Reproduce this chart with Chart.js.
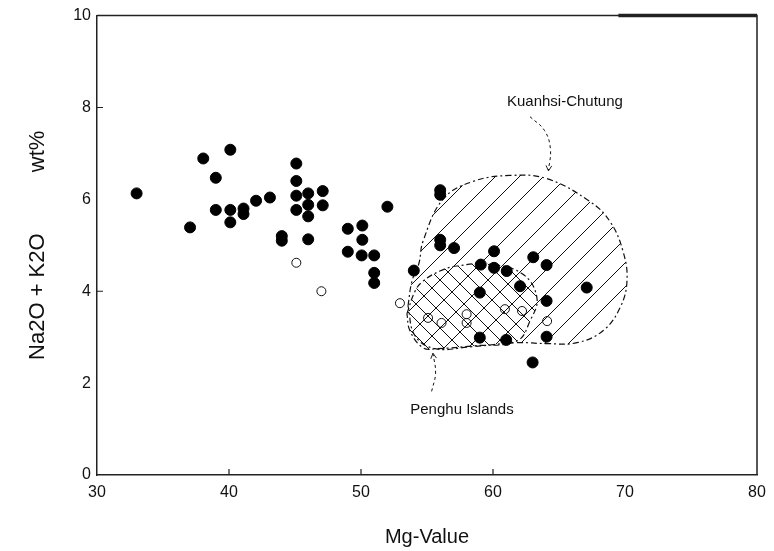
<!DOCTYPE html>
<html>
<head>
<meta charset="utf-8">
<script src="https://cdn.jsdelivr.net/npm/chart.js@4.4.1/dist/chart.umd.min.js"></script>
<style>
  html, body { margin: 0; padding: 0; background: #fff; }
  #wrap { width: 774px; height: 551px; }
</style>
</head>
<body>
<div id="wrap"><canvas id="myChart" width="774" height="551"></canvas></div>
<script>
// filled circles (Mg-value, Na2O + K2O)
const mgFilled = [33.0, 37.05, 38.05, 39.0, 39.0, 40.1, 40.1, 40.1, 41.1, 41.1, 42.05, 43.1, 44.0, 44.0,
  45.1, 45.1, 45.1, 45.1, 46.0, 46.0, 46.0, 46.0, 47.1, 47.1, 49.0, 49.0, 50.1, 50.1, 50.05, 51.0, 51.0, 51.0,
  52.0, 54.0, 56.0, 56.0, 56.0, 56.0, 57.05, 59.07, 59.0, 59.0, 60.08, 60.08, 61.04, 61.0, 62.05, 63.05, 63.0,
  64.06, 64.06, 64.06, 67.1];
const alkFilled = [6.13, 5.39, 6.89, 6.47, 5.77, 7.08, 5.77, 5.5, 5.8, 5.68, 5.97, 6.04, 5.2, 5.1,
  6.78, 6.4, 6.08, 5.77, 6.13, 5.88, 5.63, 5.13, 6.18, 5.87, 5.36, 4.86, 5.43, 5.12, 4.78, 4.78, 4.4, 4.18,
  5.84, 4.45, 6.2, 6.1, 5.12, 5.0, 4.94, 4.58, 3.97, 2.99, 4.87, 4.51, 4.44, 2.94, 4.11, 4.74, 2.45,
  4.57, 3.79, 3.01, 4.08];

// open circles
const mgOpen = [45.1, 47.0, 52.95, 55.08, 56.1, 58.0, 58.0, 60.9, 62.2, 64.1];
const alkOpen = [4.62, 4.0, 3.74, 3.42, 3.31, 3.5, 3.31, 3.61, 3.57, 3.35];

// Kuanhsi-Chutung field outline
const kuanMg = [53.56, 53.86, 54.39, 54.7, 56.21, 58.48, 61.29, 64.09, 67.35, 68.86, 69.85, 70.15, 69.62,
  68.33, 66.36, 64.09, 61.82, 58.26, 55.61, 54.09, 53.56];
const kuanAlk = [3.68, 4.22, 4.61, 5.09, 6.0, 6.39, 6.52, 6.45, 5.95, 5.52, 4.87, 4.22, 3.64,
  3.14, 2.88, 2.86, 2.88, 2.79, 2.75, 3.03, 3.68];

// Penghu Islands field outline
const penghuMg = [53.48, 54.09, 54.7, 55.98, 57.27, 59.77, 62.27, 63.33, 62.8, 61.82, 58.48, 55.76, 54.7, 53.71, 53.48];
const penghuAlk = [3.51, 4.0, 4.22, 4.44, 4.55, 4.59, 4.37, 3.85, 3.35, 2.92, 2.81, 2.75, 2.77, 3.14, 3.51];

// leader lines, last point is the arrow tip
const kuanLeaderMg = [62.8, 63.9, 64.35, 64.2];
const kuanLeaderAlk = [7.8, 7.5, 7.1, 6.62];
const penghuLeaderMg = [55.35, 55.65, 55.45];
const penghuLeaderAlk = [1.82, 2.22, 2.65];

const xTicks = [30, 40, 50, 60, 70, 80];
const yTicks = [0, 2, 4, 6, 8, 10];

const FONT = "'Liberation Sans', Arial, sans-serif";

function toPoints(xs, ys) {
  return xs.map((x, i) => ({ x: x, y: ys[i] }));
}

// hatch pattern: "/" or "\" diagonal lines
function hatch(size, dir) {
  const c = document.createElement("canvas");
  c.width = size;
  c.height = size;
  const g = c.getContext("2d");
  g.strokeStyle = "#111";
  g.lineWidth = 1;
  g.beginPath();
  if (dir === "/") {
    g.moveTo(0, size); g.lineTo(size, 0);
    g.moveTo(-2, 2); g.lineTo(2, -2);
    g.moveTo(size - 2, size + 2); g.lineTo(size + 2, size - 2);
  } else {
    g.moveTo(0, 0); g.lineTo(size, size);
    g.moveTo(size - 2, -2); g.lineTo(size + 2, 2);
    g.moveTo(-2, size - 2); g.lineTo(2, size + 2);
  }
  g.stroke();
  return g.createPattern(c, "repeat");
}

const kuanPattern = hatch(24, "/");
const penghuPattern = hatch(16, "\\");

const regionPlugin = {
  id: "regions",
  beforeDatasetsDraw(chart) {
    const ctx = chart.ctx;
    const area = chart.chartArea;
    [[2, kuanPattern], [3, penghuPattern]].forEach(([idx, pattern]) => {
      const meta = chart.getDatasetMeta(idx);
      if (!meta.dataset) return;
      meta.dataset.updateControlPoints(area, "x");
      ctx.save();
      ctx.beginPath();
      ctx.rect(area.left, area.top, area.right - area.left, area.bottom - area.top);
      ctx.clip();
      ctx.beginPath();
      meta.dataset.path(ctx);
      ctx.closePath();
      ctx.fillStyle = pattern;
      ctx.fill();
      ctx.restore();
    });
  },
  afterDraw(chart) {
    const ctx = chart.ctx;
    const xs = chart.scales.x;
    const ys = chart.scales.y;
    const a = chart.chartArea;
    ctx.save();

    // frame (right + top) and inward ticks
    ctx.strokeStyle = "#222";
    ctx.lineWidth = 1.5;
    ctx.beginPath();
    ctx.moveTo(a.left, a.top);
    ctx.lineTo(a.right, a.top);
    ctx.lineTo(a.right, a.bottom);
    ctx.stroke();
    ctx.lineWidth = 3.5;
    ctx.beginPath();
    ctx.moveTo(xs.getPixelForValue(69.5), a.top);
    ctx.lineTo(a.right, a.top);
    ctx.stroke();
    ctx.lineWidth = 1.2;
    ctx.beginPath();
    [40, 50, 60].forEach((v) => {
      const px = xs.getPixelForValue(v);
      ctx.moveTo(px, a.bottom);
      ctx.lineTo(px, a.bottom - 6);
    });
    [4, 8].forEach((v) => {
      const py = ys.getPixelForValue(v);
      ctx.moveTo(a.left, py);
      ctx.lineTo(a.left + 6, py);
    });
    ctx.stroke();

    // arrow heads on leader lines
    const arrow = (mx, my) => {
      const n = mx.length;
      const x1 = xs.getPixelForValue(mx[n - 2]), y1 = ys.getPixelForValue(my[n - 2]);
      const x2 = xs.getPixelForValue(mx[n - 1]), y2 = ys.getPixelForValue(my[n - 1]);
      const ang = Math.atan2(y2 - y1, x2 - x1);
      ctx.lineWidth = 1;
      ctx.beginPath();
      ctx.moveTo(x2 - 6 * Math.cos(ang - 0.5), y2 - 6 * Math.sin(ang - 0.5));
      ctx.lineTo(x2, y2);
      ctx.lineTo(x2 - 6 * Math.cos(ang + 0.5), y2 - 6 * Math.sin(ang + 0.5));
      ctx.stroke();
    };
    arrow(kuanLeaderMg, kuanLeaderAlk);
    arrow(penghuLeaderMg, penghuLeaderAlk);

    // field names
    ctx.fillStyle = "#111";
    ctx.font = "15px " + FONT;
    ctx.textAlign = "center";
    ctx.textBaseline = "middle";
    ctx.fillText("Kuanhsi-Chutung", xs.getPixelForValue(65.45), ys.getPixelForValue(8.12));
    ctx.fillText("Penghu Islands", xs.getPixelForValue(57.65), ys.getPixelForValue(1.41));
    ctx.restore();
  },
};

const ctx = document.getElementById("myChart");

new Chart(ctx, {
  type: "scatter",
  data: {
    datasets: [
      {
        data: toPoints(mgFilled, alkFilled),
        pointRadius: 5.5,
        pointBackgroundColor: "#000",
        pointBorderColor: "#000",
        pointBorderWidth: 1,
        order: 0,
      },
      {
        data: toPoints(mgOpen, alkOpen),
        pointRadius: 4.5,
        pointBackgroundColor: "rgba(255,255,255,0)",
        pointBorderColor: "#111",
        pointBorderWidth: 1,
        order: 1,
      },
      {
        data: toPoints(kuanMg, kuanAlk),
        showLine: true,
        tension: 0.4,
        pointRadius: 0,
        borderColor: "#111",
        borderWidth: 1.2,
        borderDash: [6, 3, 2, 3],
        fill: false,
        order: 2,
      },
      {
        data: toPoints(penghuMg, penghuAlk),
        showLine: true,
        tension: 0.4,
        pointRadius: 0,
        borderColor: "#111",
        borderWidth: 1.2,
        borderDash: [6, 3, 2, 3],
        fill: false,
        order: 3,
      },
      {
        data: toPoints(kuanLeaderMg, kuanLeaderAlk),
        showLine: true,
        tension: 0.4,
        pointRadius: 0,
        borderColor: "#111",
        borderWidth: 1,
        borderDash: [3, 3],
        order: 4,
      },
      {
        data: toPoints(penghuLeaderMg, penghuLeaderAlk),
        showLine: true,
        tension: 0.4,
        pointRadius: 0,
        borderColor: "#111",
        borderWidth: 1,
        borderDash: [3, 3],
        order: 5,
      },
    ],
  },
  options: {
    responsive: false,
    animation: false,
    layout: {
      padding: { top: 13, right: 17, bottom: 0, left: 0 },
    },
    plugins: {
      legend: { display: false },
      tooltip: { enabled: false },
    },
    scales: {
      x: {
        type: "linear",
        min: 30,
        max: 80,
        afterBuildTicks: (scale) => {
          scale.ticks = xTicks.map((v) => ({ value: v }));
        },
        afterFit: (scale) => {
          scale.height = 76;
        },
        grid: { display: false, drawTicks: false },
        border: { color: "#222", width: 1.5 },
        ticks: { color: "#111", padding: 8, font: { family: FONT, size: 16 } },
        title: {
          display: true,
          text: "Mg-Value",
          color: "#111",
          font: { family: FONT, size: 20 },
          padding: { top: 0, bottom: 2 },
        },
      },
      y: {
        type: "linear",
        min: 0,
        max: 10,
        afterBuildTicks: (scale) => {
          scale.ticks = yTicks.map((v) => ({ value: v }));
        },
        afterFit: (scale) => {
          scale.width = 97;
        },
        grid: { display: false, drawTicks: false },
        border: { color: "#222", width: 1.5 },
        ticks: { color: "#111", padding: 6, font: { family: FONT, size: 16 } },
        title: {
          display: true,
          text: "Na2O + K2O          wt%",
          color: "#111",
          font: { family: FONT, size: 22 },
          padding: { top: 25, bottom: 0 },
        },
      },
    },
  },
  plugins: [regionPlugin],
});
</script>
</body>
</html>
